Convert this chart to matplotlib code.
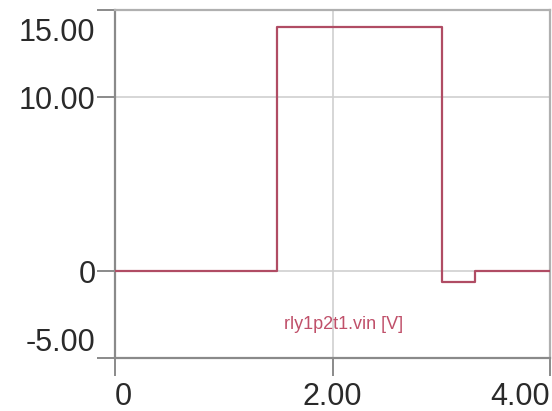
import matplotlib.pyplot as plt
from matplotlib.transforms import ScaledTranslation

plt.rcParams["font.family"] = ["Liberation Sans", "DejaVu Sans"]

# transient waveform (step changes)
time_s = [0.0, 1.49, 3.01, 3.31, 4.0]
vin = [0.0, 14.0, -0.65, 0.0, 0.0]

x_ticks = [0, 2, 4]
x_labels = ["0", "2.00", "4.00"]
y_ticks = [-5, 0, 10, 15]
y_labels = ["-5.00", "0", "10.00", "15.00"]

trace_name = "rly1p2t1.vin [V]"
trace_color = "#b04c64"

fig = plt.figure(figsize=(5.52, 4.11), dpi=100)
ax = fig.add_axes([115 / 552, 1 - 358 / 411, 435 / 552, 348 / 411])

ax.step(time_s, vin, where="post", color=trace_color, lw=1.6, zorder=3)

ax.set_xlim(0, 4)
ax.set_ylim(-5, 15)
ax.set_xticks(x_ticks)
ax.set_xticklabels(x_labels)
ax.set_yticks(y_ticks)
ax.set_yticklabels(y_labels)

ax.grid(True, color="#cfcfcf", lw=1.2)
ax.set_axisbelow(True)

ax.tick_params(axis="both", labelsize=22, colors="#8a8a8a", labelcolor="#2a2a2a",
               length=13, width=1.4)
ax.tick_params(axis="y", pad=1)
ax.tick_params(axis="x", pad=4)

xl = ax.get_xticklabels()
xl[0].set_ha("left")
xl[-1].set_ha("right")
yl = ax.get_yticklabels()
yl[0].set_va("bottom")
yl[-1].set_va("top")
yl[-1].set_transform(yl[-1].get_transform()
                     + ScaledTranslation(0, -6 / 72, fig.dpi_scale_trans))

for side, spine in ax.spines.items():
    spine.set_color("#8a8a8a" if side in ("left", "bottom") else "#b0b0b0")
    spine.set_linewidth(1.6)

ax.text(2.1, -3.1, trace_name, color="#c0506a", fontsize=13,
        ha="center", va="center")

fig.savefig("out.png", dpi=100)
